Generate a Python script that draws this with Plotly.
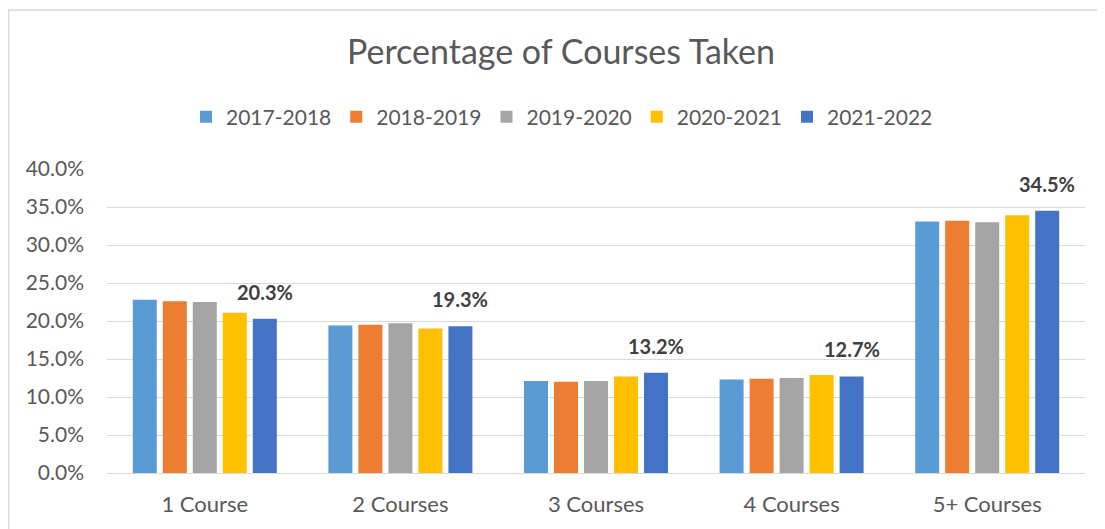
import plotly.graph_objects as go

categories = ["1 Course", "2 Courses", "3 Courses", "4 Courses", "5+ Courses"]
series_names = ["2017-2018", "2018-2019", "2019-2020", "2020-2021", "2021-2022"]
v_2017_2018 = [22.8, 19.4, 12.1, 12.3, 33.1]
v_2018_2019 = [22.6, 19.5, 12.0, 12.4, 33.2]
v_2019_2020 = [22.5, 19.7, 12.1, 12.5, 33.0]
v_2020_2021 = [21.1, 19.0, 12.7, 12.9, 33.9]
v_2021_2022 = [20.3, 19.3, 13.2, 12.7, 34.5]
colors = ["#5B9BD5", "#ED7D31", "#A5A5A5", "#FFC000", "#4472C4"]

all_values = [v_2017_2018, v_2018_2019, v_2019_2020, v_2020_2021, v_2021_2022]

FONT = "Lato"
TXT = "#595959"

# page has an 8px body margin; lay the figure out in page pixels
O = 8
W, H = 1105 - O, 529 - O
L, R, T, B = 99, 20, 161, 56
pw, ph = W - L - R, H - T - B
BARGAP, GROUPGAP = 0.233, 0.2


def px_x(x):
    return (x - O - L) / pw


def px_y(y):
    return (H - B - (y - O)) / ph


fig = go.Figure()
for name, vals, col in zip(series_names, all_values, colors):
    fig.add_trace(go.Bar(
        name=name, x=categories, y=vals,
        marker=dict(color=col, line=dict(width=0)),
        hovertemplate="%{x}: %{y:.1f}%<extra>" + name + "</extra>",
    ))

# data labels for the latest series, placed over its bar in each group
n = len(series_names)
slot = pw / len(categories) * (1 - BARGAP) / n
last_offset = (n - 1 - (n - 1) / 2) * slot
annotations = [
    dict(x=c, y=v, xref="x", yref="y", text=f"{v:.1f}%", showarrow=False,
         xanchor="center", yanchor="bottom", xshift=last_offset, yshift=13,
         font=dict(family=FONT, size=20, color="#404040", weight="bold"))
    for c, v in zip(categories, v_2021_2022)
]

fig.update_layout(
    width=W, height=H,
    margin=dict(l=L, r=R, t=T, b=B, pad=0),
    paper_bgcolor="white", plot_bgcolor="white",
    barmode="group", bargap=BARGAP, bargroupgap=GROUPGAP,
    title=dict(text="Percentage of Courses Taken", x=(561 - O) / W, xanchor="center",
               y=1 - (52 - O) / H, yanchor="middle", xref="container", yref="container",
               font=dict(family=FONT, size=34, color=TXT)),
    legend=dict(orientation="h", x=px_x(562), xanchor="center", y=px_y(117), yanchor="middle",
                font=dict(family=FONT, size=21, color=TXT), traceorder="normal",
                bgcolor="rgba(0,0,0,0)"),
    font=dict(family=FONT, color=TXT),
    xaxis=dict(showgrid=False, showline=False, ticks="", ticklabelstandoff=16,
               tickfont=dict(family=FONT, size=22, color=TXT)),
    yaxis=dict(range=[0, 40], dtick=5, tickformat=".1f", ticksuffix="%",
               showgrid=True, gridcolor="#D9D9D9", gridwidth=1.3,
               zeroline=True, zerolinecolor="#D9D9D9", zerolinewidth=1.3,
               showline=False, ticks="", ticklabelstandoff=22,
               tickfont=dict(family=FONT, size=21, color=TXT)),
    annotations=annotations,
    shapes=[dict(type="rect", xref="paper", yref="paper",
                 x0=px_x(8.7), x1=px_x(1120), y0=px_y(560), y1=px_y(10),
                 line=dict(color="#D9D9D9", width=1.3), fillcolor="rgba(0,0,0,0)", layer="below")],
)

fig.write_html("out.html")
